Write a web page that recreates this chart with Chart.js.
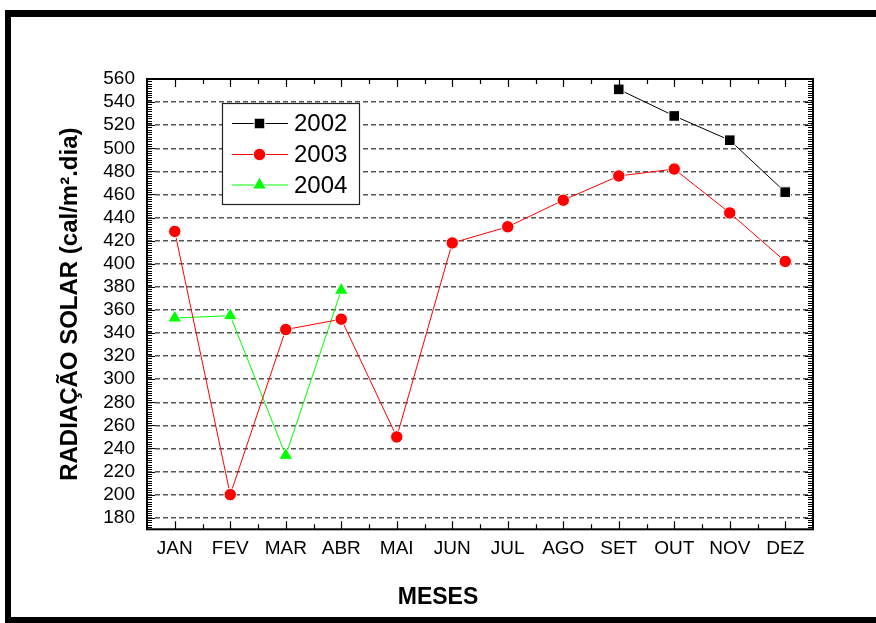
<!DOCTYPE html>
<html><head><meta charset="utf-8">
<script src="https://cdn.jsdelivr.net/npm/chart.js@4"></script>
<style>html,body{margin:0;padding:0;background:#fff;overflow:hidden}canvas{display:block}</style>
</head><body>
<canvas id="c" width="876" height="623"></canvas>
<script>
const months = ['JAN','FEV','MAR','ABR','MAI','JUN','JUL','AGO','SET','OUT','NOV','DEZ'];
const y2002 = [null,null,null,null,null,null,null,null,551,528,507,462];
const y2003 = [428,200,343,352,250,418,432,455,476,482,444,402];
const y2004 = [353,355,234,377,null,null,null,null,null,null,null,null];
const yTicks = [180,200,220,240,260,280,300,320,340,360,380,400,420,440,460,480,500,520,540,560];
const seriesNames = ['2002','2003','2004'];
const yMin = 170, yMax = 560;
const yTitle = 'RADIAÇÃO SOLAR (cal/m².dia)';
const xTitle = 'MESES';

const FONT = "'Liberation Sans', Arial, Helvetica, sans-serif";
Chart.defaults.font.family = FONT;
Chart.defaults.color = '#000';

function drawMarker(ctx, style, r, x, y, color) {
  ctx.save();
  ctx.fillStyle = color;
  ctx.strokeStyle = '#fff';
  ctx.lineWidth = 1;
  ctx.beginPath();
  if (style === 'rect') {
    const s = Math.SQRT1_2 * r;
    ctx.rect(x - s, y - s, 2 * s, 2 * s);
  } else if (style === 'circle') {
    ctx.arc(x, y, r, 0, Math.PI * 2);
  } else if (style === 'triangle') {
    let a = 0;
    ctx.moveTo(x + Math.sin(a) * r, y - Math.cos(a) * r);
    a += 2 * Math.PI / 3;
    ctx.lineTo(x + Math.sin(a) * r, y - Math.cos(a) * r);
    a += 2 * Math.PI / 3;
    ctx.lineTo(x + Math.sin(a) * r, y - Math.cos(a) * r);
    ctx.closePath();
  }
  ctx.fill();
  ctx.stroke();
  ctx.restore();
}

const framePlugin = {
  id: 'frame',
  beforeDraw(chart) {
    const ctx = chart.ctx;
    ctx.save();
    ctx.fillStyle = '#fff';
    ctx.fillRect(0, 0, chart.width, chart.height);
    ctx.fillStyle = '#000';
    ctx.fillRect(5, 10, chart.width - 5, 7);
    ctx.fillRect(5, 10, 6, chart.height - 10);
    ctx.fillRect(5, 617, chart.width - 5, 6);
    ctx.restore();
  },
  afterDraw(chart) {
    const ctx = chart.ctx;
    const ca = chart.chartArea;
    const xs = chart.scales.x, ys = chart.scales.y;
    ctx.save();
    ctx.strokeStyle = '#000';
    ctx.lineWidth = 1.2;
    ctx.beginPath();
    const step = xs.getPixelForValue(1) - xs.getPixelForValue(0);
    for (let i = 0; i < months.length; i++) {
      const px = Math.round(xs.getPixelForValue(i)) + 0.5;
      ctx.moveTo(px, ca.bottom); ctx.lineTo(px, ca.bottom - 8);
      ctx.moveTo(px, ca.top); ctx.lineTo(px, ca.top + 8);
      const mx = Math.round(xs.getPixelForValue(i) - step / 2) + 0.5;
      ctx.moveTo(mx, ca.bottom); ctx.lineTo(mx, ca.bottom - 5);
      ctx.moveTo(mx, ca.top); ctx.lineTo(mx, ca.top + 5);
    }
    ctx.stroke();
    ctx.lineWidth = 1;
    ctx.beginPath();
    for (let v = yMin; v <= yMax; v += 2) {
      const py = Math.round(ys.getPixelForValue(v)) + 0.5;
      const major = yTicks.includes(v);
      const len = major ? 8 : 5;
      ctx.moveTo(ca.left, py); ctx.lineTo(ca.left + len, py);
      ctx.moveTo(ca.right, py); ctx.lineTo(ca.right - len, py);
    }
    ctx.stroke();
    ctx.lineWidth = 2;
    ctx.strokeRect(ca.left, ca.top, ca.right - ca.left, ca.bottom - ca.top);
    // legend
    const bx = 222, by = 103, bw = 137, bh = 101;
    ctx.fillStyle = '#fff';
    ctx.fillRect(bx, by, bw, bh);
    ctx.lineWidth = 1.2;
    ctx.strokeStyle = '#222';
    ctx.strokeRect(bx + 0.5, by + 0.5, bw, bh);
    const rows = [123.5, 154.5, 185];
    chart.data.datasets.forEach((ds, k) => {
      const ry = rows[k];
      ctx.strokeStyle = ds.borderColor;
      ctx.lineWidth = 1;
      ctx.beginPath();
      ctx.moveTo(232, ry); ctx.lineTo(288, ry);
      ctx.stroke();
      drawMarker(ctx, ds.pointStyle, ds.pointRadius, 259.5, ry, ds.backgroundColor);
      ctx.fillStyle = '#000';
      ctx.font = '24px ' + FONT;
      ctx.textBaseline = 'middle';
      ctx.textAlign = 'left';
      ctx.fillText(ds.label, 294, ry + 1);
    });
    ctx.restore();
  }
};

new Chart(document.getElementById('c'), {
  type: 'line',
  data: {
    labels: months,
    datasets: [
      {label: seriesNames[0], data: y2002, borderColor: '#000000', backgroundColor: '#000000',
       pointStyle: 'rect', pointRadius: 7.5, pointBorderColor: '#ffffff', pointBorderWidth: 1, borderWidth: 1},
      {label: seriesNames[1], data: y2003, borderColor: '#ff0000', backgroundColor: '#ff0000',
       pointStyle: 'circle', pointRadius: 6.2, pointBorderColor: '#ffffff', pointBorderWidth: 1, borderWidth: 1},
      {label: seriesNames[2], data: y2004, borderColor: '#00ff00', backgroundColor: '#00ff00',
       pointStyle: 'triangle', pointRadius: 8, pointBorderColor: '#ffffff', pointBorderWidth: 1, borderWidth: 1}
    ]
  },
  options: {
    responsive: false,
    animation: false,
    devicePixelRatio: 1,
    layout: {padding: {top: 79, right: 0, left: 0, bottom: 0}},
    elements: {line: {tension: 0}},
    plugins: {
      legend: {display: false},
      tooltip: {enabled: false},
      title: {display: true, position: 'bottom', text: xTitle, color: '#000',
              font: {family: FONT, size: 23, weight: 'bold'}, padding: {top: 10, bottom: 11.7}}
    },
    scales: {
      x: {
        type: 'category', offset: true,
        grid: {display: false, drawTicks: false},
        border: {display: false},
        ticks: {font: {family: FONT, size: 19}, color: '#000', padding: 8, maxRotation: 0, autoSkip: false},
        afterFit: s => { s.height = 44.4; }
      },
      y: {
        type: 'linear', min: yMin, max: yMax,
        afterBuildTicks: s => { s.ticks = yTicks.map(v => ({value: v})); },
        afterFit: s => { s.width = 147; },
        grid: {color: '#555', lineWidth: 1.5, drawTicks: false},
        border: {display: false, dash: [5, 3]},
        ticks: {font: {family: FONT, size: 19}, color: '#000', padding: 12, autoSkip: false},
        title: {display: true, text: yTitle, color: '#000',
                font: {family: FONT, size: 24, weight: 'bold'}, padding: {top: 56, bottom: 0}}
      },
      yRight: {
        type: 'linear', position: 'right', min: yMin, max: yMax,
        grid: {display: false, drawTicks: false},
        border: {display: false},
        ticks: {display: false},
        afterFit: s => { s.width = 63; }
      }
    }
  },
  plugins: [framePlugin]
});
</script>
</body></html>
